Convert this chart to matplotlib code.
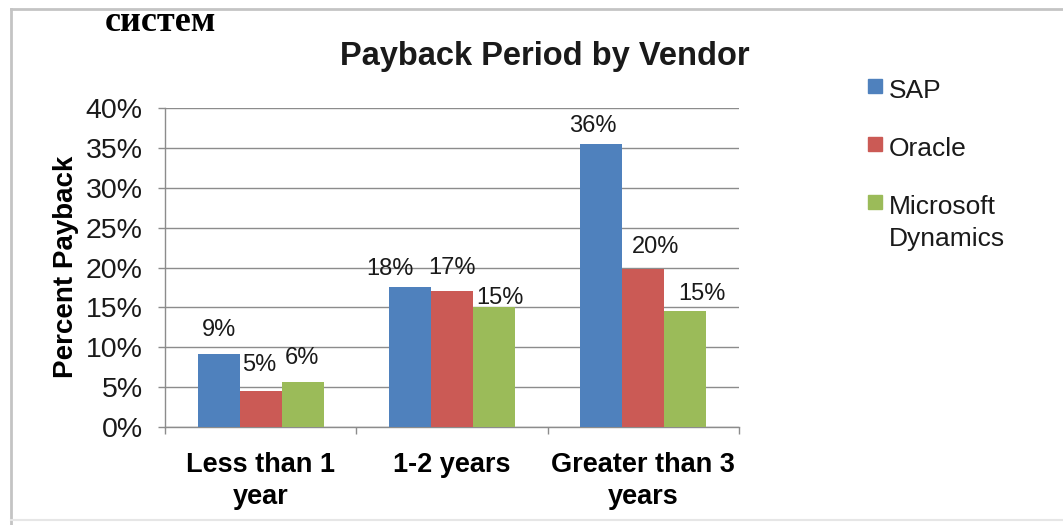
import matplotlib
matplotlib.use("Agg")
from matplotlib import pyplot as plt
from matplotlib.patches import Rectangle
from matplotlib.lines import Line2D
from matplotlib.ticker import FuncFormatter, MultipleLocator, FixedLocator
import numpy as np

# data (percent)
categories = ["Less than 1\nyear", "1-2 years", "Greater than 3\nyears"]
vendors = ["SAP", "Oracle", "Microsoft\nDynamics"]
sap = [9.2, 17.6, 35.5]
oracle = [4.5, 17.1, 19.8]
microsoft = [5.6, 15.1, 14.6]

colors = ["#4F81BD", "#CB5A55", "#9BBB59"]
# label nudges in pixels (dx, gap above bar), per vendor per group
label_dx = [[0, -20, -8], [-1, 0, 12], [-1, 6, 17]]
label_gap = [[18, 12, 12], [20, 17, 16], [18, 3, 11]]

W, H = 1063, 525
plt.rcParams['font.family'] = ['Liberation Sans', 'DejaVu Sans']
fig = plt.figure(figsize=(W / 100, H / 100), dpi=100)
fig.patch.set_facecolor("white")

# outer chart frame: grey top and left, faint bottom
fig.add_artist(Line2D([11 / W, 1], [1 - 9 / H, 1 - 9 / H], color="#c4c4c4", lw=2))
fig.add_artist(Line2D([11 / W, 11 / W], [0, 1 - 9 / H], color="#c4c4c4", lw=2))
fig.add_artist(Line2D([11 / W, 1], [1 - 520 / H, 1 - 520 / H], color="#e6e6e6", lw=1.5))

ax = fig.add_axes([165 / W, 1 - 427 / H, 574 / W, 319 / H])
x = np.arange(len(categories))
width = 0.22
series = [sap, oracle, microsoft]
for i, vals in enumerate(series):
    pos = x + (i - 1) * width
    ax.bar(pos, vals, width=width, color=colors[i], zorder=3)
    for j, v in enumerate(vals):
        ax.annotate(str(int(v + 0.5)) + "%", (pos[j], v),
                    xytext=(label_dx[i][j] * 0.72, label_gap[i][j] * 0.72),
                    textcoords="offset points", ha="center", va="baseline",
                    fontsize=17, color="#1a1a1a")

ax.set_ylim(0, 40)
ax.set_xlim(-0.5, len(categories) - 0.5)
ax.yaxis.set_major_locator(MultipleLocator(5))
ax.yaxis.set_major_formatter(FuncFormatter(lambda v, p: "%d%%" % v))
ax.grid(axis="y", color="#8c8c8c", linewidth=1, zorder=0)
ax.set_xticks(x)
ax.set_xticklabels(categories, fontsize=19.5, fontweight="bold", linespacing=1.3)
ax.xaxis.set_minor_locator(FixedLocator(np.arange(-0.5, len(categories), 1)))
ax.tick_params(axis="x", which="major", length=0, pad=18)
ax.tick_params(axis="x", which="minor", length=5, width=1, color="#8c8c8c")
ax.tick_params(axis="y", length=5, width=1, color="#8c8c8c", pad=11,
               labelsize=20.5, labelcolor="#1a1a1a")
for s in ["top", "right"]:
    ax.spines[s].set_visible(False)
for s in ["left", "bottom"]:
    ax.spines[s].set_color("#8c8c8c")
    ax.spines[s].set_linewidth(1)

fig.text(66 / W, 1 - 267 / H, "Percent Payback", rotation=90, ha="center",
         va="center", fontsize=20, fontweight="bold")
fig.text(545 / W, 1 - 57 / H, "Payback Period by Vendor", ha="center",
         va="center", fontsize=23.5, fontweight="bold", color="#1a1a1a")
fig.text(105 / W, 1 - 31 / H, "систем", ha="left", va="baseline",
         fontsize=26, fontweight="bold", family=["Liberation Serif", "DejaVu Serif"])

# legend drawn by hand so the square sits by the first text line
for i, name in enumerate(vendors):
    top = 79 + 58 * i
    fig.patches.append(Rectangle((868 / W, 1 - (top + 14) / H), 14 / W, 14 / H,
                                 transform=fig.transFigure, color=colors[i]))
    fig.text(889 / W, 1 - top / H, name, ha="left", va="top",
             fontsize=19, linespacing=1.4, color="#1a1a1a")

fig.savefig("out.png", dpi=100)
